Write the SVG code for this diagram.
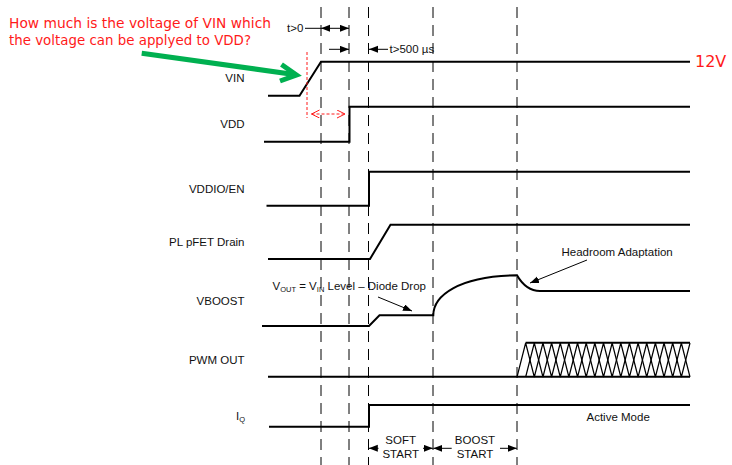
<svg xmlns="http://www.w3.org/2000/svg" width="732" height="465" viewBox="0 0 732 465">
<style>
text{font-family:"Liberation Sans",Arial,sans-serif;font-size:11.5px;fill:#111}
.lbl{text-anchor:end}
.w{fill:none;stroke:#000;stroke-width:2}
.g{fill:none;stroke:#000;stroke-width:1;stroke-dasharray:11 7}
.hx{fill:none;stroke:#000;stroke-width:1.2}
.a{fill:none;stroke:#000;stroke-width:1}
text.red{font-family:"DejaVu Sans","Liberation Sans",sans-serif;fill:#ff1a1a;font-size:13.5px}
text.big{font-size:16px}
</style>
<defs>
<marker id="ah" markerUnits="userSpaceOnUse" markerWidth="10" markerHeight="8" refX="9" refY="3.5" orient="auto-start-reverse">
<path d="M0,0 L9,3.5 L0,7 Z" fill="#000"/>
</marker>
<marker id="rh" markerUnits="userSpaceOnUse" markerWidth="10" markerHeight="10" refX="8" refY="4" orient="auto-start-reverse">
<path d="M0,0 L8,4 L0,8" fill="none" stroke="#ff1a1a" stroke-width="1"/>
</marker>
</defs>
<rect width="732" height="465" fill="#fff"/>

<g id="gridlines">
<line class="g" x1="321" y1="7" x2="321" y2="465"/>
<line class="g" x1="349" y1="7" x2="349" y2="465"/>
<line class="g" x1="368.5" y1="7" x2="368.5" y2="465"/>
<line class="g" x1="433" y1="7" x2="433" y2="465"/>
<line class="g" x1="517" y1="7" x2="517" y2="465"/>
</g>

<g id="question">
<text class="red" x="9" y="28.3" textLength="262" lengthAdjust="spacingAndGlyphs">How much is the voltage of VIN which</text>
<text class="red" x="9" y="45" textLength="242" lengthAdjust="spacingAndGlyphs">the voltage can be applyed to VDD?</text>
</g>

<g id="vin">
<text class="lbl" x="244.5" y="82">VIN</text>
<path class="w" d="M268,95.7 L299.5,95.7 L321,61.7 L690,61.7"/>
<text class="red big" x="695" y="66.5">12V</text>
</g>

<g id="vdd">
<text class="lbl" x="244.5" y="128">VDD</text>
<path class="w" d="M264,141.7 L349.5,141.7 L349.5,106.7 L690,106.7"/>
</g>

<g id="vddio">
<text class="lbl" x="244.5" y="192.5">VDDIO/EN</text>
<path class="w" d="M266.5,205.7 L369,205.7 L369,171.7 L690,171.7"/>
</g>

<g id="pfet">
<text class="lbl" x="244.5" y="245.5">PL pFET Drain</text>
<path class="w" d="M268,259 L370,259 L390.5,224.7 L690,224.7"/>
</g>

<g id="vboost">
<text class="lbl" x="244.5" y="304.5">VBOOST</text>
<path class="w" d="M262,326 L369,326 L379.5,315.3 L433.3,315.3 C433.3,296 458,276 517,275.3 Q526,291 540,291 L690,291"/>
<text x="272.5" y="290">V<tspan font-size="7.5" dy="1.5">OUT</tspan><tspan dy="-1.5"> = V</tspan><tspan font-size="7.5" dy="1.5">IN</tspan><tspan dy="-1.5"> Level – Diode Drop</tspan></text>
<text x="561.5" y="256">Headroom Adaptation</text>
</g>

<g id="pwm">
<text class="lbl" x="244.5" y="363.5">PWM OUT</text>
<path class="w" d="M268,376.7 L690,376.7 M525.6,342.7 L690,342.7"/>
<path class="hx" d="M517,377 L525.65,343 L534.3,377 L542.95,343 L551.6,377 L560.25,343 L568.9,377 L577.55,343 L586.2,377 L594.85,343 L603.5,377 L612.15,343 L620.8,377 L629.45,343 L638.1,377 L646.75,343 L655.4,377 L664.05,343 L672.7,377 L681.35,343 L690,377"/>
<path class="hx" d="M525.65,377 L534.3,343 L542.95,377 L551.6,343 L560.25,377 L568.9,343 L577.55,377 L586.2,343 L594.85,377 L603.5,343 L612.15,377 L620.8,343 L629.45,377 L638.1,343 L646.75,377 L655.4,343 L664.05,377 L672.7,343 L681.35,377 L690,343"/>
</g>

<g id="iq">
<text class="lbl" x="245" y="420">I<tspan font-size="7.5" dy="1.5">Q</tspan></text>
<path class="w" d="M269,426.7 L369,426.7 L369,405 L690,405"/>
<text x="586.5" y="420.5">Active Mode</text>
</g>

<g id="phases">
<text x="400.7" y="444" text-anchor="middle">SOFT</text>
<text x="400.7" y="458" text-anchor="middle">START</text>
<text x="475" y="444" text-anchor="middle">BOOST</text>
<text x="475" y="458" text-anchor="middle">START</text>
</g>

<g id="timing">
<text x="287" y="32">t&gt;0</text>
<text x="389.5" y="53">t&gt;500 µs</text>
</g>

<g id="connectors">
<line class="a" x1="305" y1="28.3" x2="321" y2="28.3"/>
<line class="a" x1="321" y1="28.3" x2="349" y2="28.3" marker-start="url(#ah)" marker-end="url(#ah)"/>
<line class="a" x1="329" y1="49.3" x2="349" y2="49.3" marker-end="url(#ah)"/>
<line class="a" x1="388" y1="49.3" x2="369" y2="49.3" marker-end="url(#ah)"/>
<line class="a" x1="378" y1="297" x2="412" y2="311" marker-end="url(#ah)"/>
<line class="a" x1="587" y1="260" x2="530" y2="283" marker-end="url(#ah)"/>
<line class="a" x1="378.5" y1="448.3" x2="368.8" y2="448.3" marker-end="url(#ah)"/>
<line class="a" x1="423" y1="448.3" x2="432.8" y2="448.3" marker-end="url(#ah)"/>
<line class="a" x1="451.7" y1="448.3" x2="433.3" y2="448.3" marker-end="url(#ah)"/>
<line class="a" x1="500" y1="448.3" x2="516.8" y2="448.3" marker-end="url(#ah)"/>
<line x1="307" y1="52" x2="307" y2="118" stroke="#ff1a1a" stroke-width="1" stroke-dasharray="3 2"/>
<line x1="311.5" y1="114" x2="345" y2="114" stroke="#ff1a1a" stroke-width="1" stroke-dasharray="3 2" marker-start="url(#rh)" marker-end="url(#rh)"/>
<line x1="141.7" y1="53.3" x2="294" y2="74.4" stroke="#00b050" stroke-width="5"/>
<polyline points="281.5,64.5 296.5,75 280,81" fill="none" stroke="#00b050" stroke-width="5" stroke-linejoin="miter"/>
</g>
</svg>
